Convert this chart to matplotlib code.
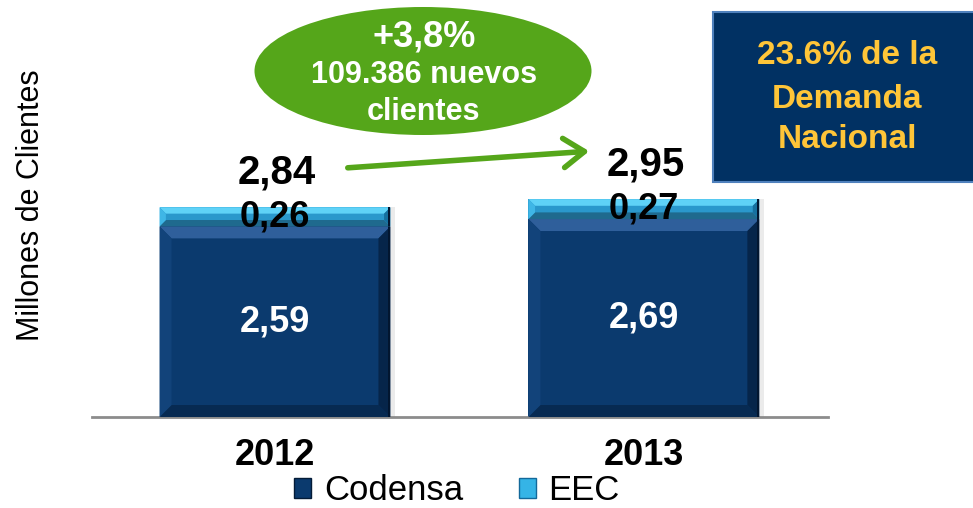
import matplotlib.pyplot as plt
from matplotlib.patches import Ellipse, Polygon, Rectangle
import numpy as np

years = ['2012', '2013']
codensa = [2.59, 2.69]
eec = [0.26, 0.27]
total_labels = ['2,84', '2,95']
codensa_labels = ['2,59', '2,69']
eec_labels = ['0,26', '0,27']
growth_lines = ['+3,8%', '109.386 nuevos', 'clientes']
share_lines = ['23.6% de la', 'Demanda', 'Nacional']

W, H = 973, 508
plt.rcParams['font.family'] = ['Liberation Sans', 'DejaVu Sans']

navy = '#0b3a6e'
navy_bevel = ['#2f5f9b', '#072a52', '#12437a', '#06254a']   # top, bottom, left, right
cyan = '#2a98cc'
cyan_bevel = ['#5fd2f7', '#1f6a8e', '#3fb6e6', '#16709f']
green = '#55a61a'


def fx(x):
    return x / W


def fy(y):
    return 1 - y / H


fig = plt.figure(figsize=(W / 100, H / 100), dpi=100)
ax = fig.add_axes([fx(92), fy(417), fx(828) - fx(92), fy(0) - fy(417)])
ax.set_xlim(-0.496, 1.499)
ax.set_ylim(0, 5.666)
x = np.arange(len(years))

bars_c = ax.bar(x, codensa, width=0.626, color=navy, zorder=2)
bars_e = ax.bar(x, eec, bottom=codensa, width=0.626, color=cyan, zorder=2)

# data units per pixel, for the bevel edges
upx = 1.995 / (828 - 92)
upy = 5.666 / 417


def bevel(patch, colors, size_px):
    x0, y0 = patch.get_x(), patch.get_y()
    x1, y1 = x0 + patch.get_width(), y0 + patch.get_height()
    by = min(size_px * upy, patch.get_height() / 3)
    bx = by / upy * upx
    faces = [
        [(x0, y1), (x1, y1), (x1 - bx, y1 - by), (x0 + bx, y1 - by)],
        [(x0, y0), (x1, y0), (x1 - bx, y0 + by), (x0 + bx, y0 + by)],
        [(x0, y0), (x0, y1), (x0 + bx, y1 - by), (x0 + bx, y0 + by)],
        [(x1, y0), (x1, y1), (x1 - bx, y1 - by), (x1 - bx, y0 + by)],
    ]
    for pts, c in zip(faces, colors):
        ax.add_patch(Polygon(pts, closed=True, facecolor=c, edgecolor='none', zorder=3))
    # dark outer edge on the right and soft grey shadow
    ax.add_patch(Rectangle((x1 - 2 * upx, y0), 2 * upx, patch.get_height(),
                           facecolor='#021630', edgecolor='none', zorder=3))
    ax.add_patch(Rectangle((x1, y0), 5 * upx, patch.get_height(), facecolor='#000000',
                           alpha=0.08, edgecolor='none', zorder=1))


for p in bars_c:
    bevel(p, navy_bevel, 12)
for p in bars_e:
    bevel(p, cyan_bevel, 7)

for i in range(len(years)):
    top = codensa[i] + eec[i]
    ax.text(x[i], codensa[i] / 2, codensa_labels[i], color='white', fontsize=26,
            fontweight='bold', ha='center', va='center', zorder=5)
    ax.text(x[i], codensa[i] + eec[i] / 2, eec_labels[i], color='black', fontsize=26,
            fontweight='bold', ha='center', va='center', zorder=5)
    ax.annotate(total_labels[i], (x[i], top), xytext=(1, 25), textcoords='offset points',
                fontsize=29, fontweight='bold', ha='center', va='center', zorder=5)

for s in ['left', 'right', 'top']:
    ax.spines[s].set_visible(False)
ax.spines['bottom'].set_color('#8c8c8c')
ax.spines['bottom'].set_linewidth(2)
ax.set_yticks([])
ax.set_xticks(x)
ax.set_xticklabels(years, fontsize=26, fontweight='bold')
ax.tick_params(axis='x', length=0, pad=15)

fig.text(fx(31), fy(205), 'Millones de Clientes', rotation=90, fontsize=22,
         ha='center', va='center')

# legend
handles = [Rectangle((0, 0), 1, 1, facecolor=navy, edgecolor='#041b37'),
           Rectangle((0, 0), 1, 1, facecolor='#35b4e6', edgecolor='#13699a')]
fig.legend(handles, ['Codensa', 'EEC'], loc='center', bbox_to_anchor=(fx(457), fy(491)),
           ncol=2, frameon=False, fontsize=25, handlelength=0.49, handleheight=0.52,
           handletextpad=0.37, columnspacing=1.6, borderpad=0)

# green growth bubble and arrow
fig.add_artist(Ellipse((fx(423), fy(71)), 337 / W, 128 / H, transform=fig.transFigure,
                       facecolor=green, edgecolor='none'))
fig.text(fx(424), fy(37), growth_lines[0], color='white', fontsize=26, fontweight='bold',
         ha='center', va='center')
fig.text(fx(424), fy(75), growth_lines[1], color='white', fontsize=22, fontweight='bold',
         ha='center', va='center')
fig.text(fx(424), fy(112), growth_lines[2], color='white', fontsize=22, fontweight='bold',
         ha='center', va='center')
ax.annotate('', xy=(fx(592), fy(151)), xytext=(fx(345), fy(168)),
            xycoords='figure fraction', textcoords='figure fraction',
            arrowprops=dict(arrowstyle='->,head_length=0.5,head_width=0.35',
                            mutation_scale=30, lw=4, color=green))

# national demand box
fig.add_artist(Rectangle((fx(713), fy(182)), (W + 10 - 713) / W, (182 - 12) / H,
                         transform=fig.transFigure, facecolor='#013163',
                         edgecolor='#4f81bd', lw=1.5, clip_on=False))
for yy, line in zip([55, 99, 140], share_lines):
    fig.text(fx(847), fy(yy), line, color='#ffc538', fontsize=24, fontweight='bold',
             ha='center', va='center')

fig.savefig('out.png', dpi=100)
